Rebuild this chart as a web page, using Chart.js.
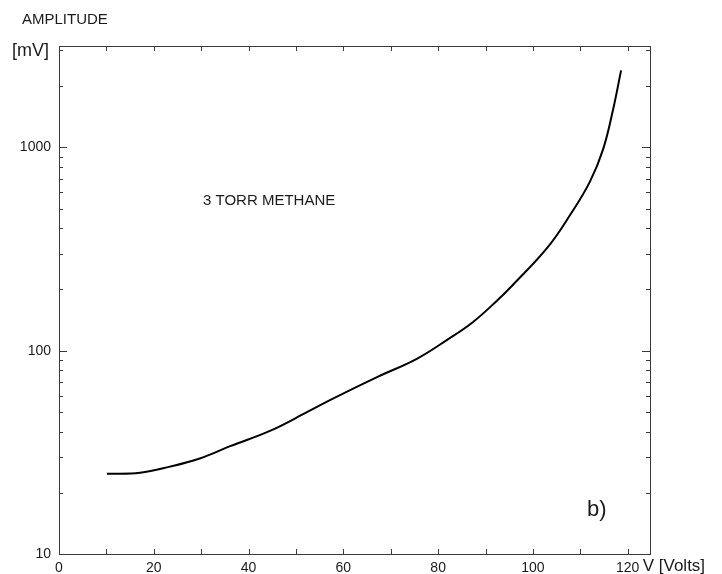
<!DOCTYPE html>
<html>
<head>
<meta charset="utf-8">
<script src="https://cdn.jsdelivr.net/npm/chart.js@4"></script>
<style>
  html, body { margin: 0; padding: 0; background: #fff; }
  #wrap { width: 722px; height: 574px; }
</style>
</head>
<body>
<div id="wrap"><canvas id="c" width="722" height="574"></canvas></div>
<script>
// ---- data ----
const voltage   = [10.1, 17.1, 23.4, 29.7, 36.1, 44.5, 52.5, 57.8, 67.1, 75.5, 81.9, 87.3, 92.4, 95.8, 103, 107.8, 112, 114.8, 116.9, 118.6];
const amplitude = [24.8, 25.1, 26.9, 29.5, 33.9, 40.3, 50.1, 58.1, 74.1, 91.2, 113, 138, 176, 211, 320, 463, 676, 977, 1530, 2390];
const xTickValues = [10, 20, 30, 40, 50, 60, 70, 80, 90, 100, 110, 120];
const xLabelValues = [0, 20, 40, 60, 80, 100, 120];
const yMajorValues = [10, 100, 1000];
const yMinorValues = [20, 30, 40, 50, 60, 70, 80, 90, 200, 300, 400, 500, 600, 700, 800, 900, 2000, 3000];
const xUnitText = 'V [Volts]';
const yTitle = 'AMPLITUDE';
const yUnitText = '[mV]';
const noteText = '3 TORR METHANE';
const panelText = 'b)';

const FONT = '"Liberation Sans", Arial, sans-serif';
const INK = '#1a1a1a';
const AXIS = '#3a3a3a';

const framePlugin = {
  id: 'framePlugin',
  afterDraw(chart) {
    const { ctx, chartArea: a, scales: { x, y } } = chart;
    ctx.save();
    ctx.strokeStyle = AXIS;
    ctx.lineWidth = 1;
    ctx.strokeRect(a.left + 0.5, a.top + 0.5, a.right - a.left, a.bottom - a.top);
    const seg = (x1, y1, x2, y2) => { ctx.beginPath(); ctx.moveTo(x1, y1); ctx.lineTo(x2, y2); ctx.stroke(); };
    xTickValues.forEach(v => {
      const px = Math.round(x.getPixelForValue(v)) + 0.5;
      seg(px, a.bottom, px, a.bottom - 5);
      seg(px, a.top, px, a.top + 5);
    });
    yMajorValues.forEach(v => {
      const py = Math.round(y.getPixelForValue(v)) + 0.5;
      seg(a.left, py, a.left + 8, py);
      seg(a.right, py, a.right - 8, py);
    });
    yMinorValues.forEach(v => {
      const py = Math.round(y.getPixelForValue(v)) + 0.5;
      seg(a.left, py, a.left + 4, py);
      seg(a.right, py, a.right - 4, py);
    });
    // texts
    ctx.fillStyle = INK;
    ctx.textBaseline = 'middle';
    ctx.textAlign = 'left';
    ctx.font = '15px ' + FONT;
    ctx.fillText(yTitle, 22, 20);
    ctx.font = '18px ' + FONT;
    ctx.fillText(yUnitText, 12, 51);
    ctx.font = '15px ' + FONT;
    ctx.fillText(noteText, 203, 201);
    ctx.font = '17px ' + FONT;
    ctx.fillText(xUnitText, x.getPixelForValue(120) + 15, 566);
    ctx.font = '22px ' + FONT;
    ctx.fillText(panelText, 587, 510);
    ctx.restore();
  }
};

new Chart(document.getElementById('c'), {
  type: 'line',
  data: {
    datasets: [{
      data: voltage.map((v, i) => ({ x: v, y: amplitude[i] })),
      borderColor: '#000',
      borderWidth: 2,
      pointRadius: 0,
      fill: false,
      tension: 0.4
    }]
  },
  options: {
    responsive: false,
    animation: false,
    layout: { padding: { top: 46, right: 72, left: 0, bottom: 0 } },
    plugins: { legend: { display: false }, tooltip: { enabled: false } },
    scales: {
      x: {
        type: 'linear',
        min: 0,
        max: 124.7,
        grid: { display: false, drawTicks: false },
        border: { display: false },
        afterBuildTicks(s) { s.ticks = xLabelValues.map(v => ({ value: v })); },
        afterFit(s) { s.height = 20; },
        ticks: {
          autoSkip: false,
          maxRotation: 0,
          padding: 6,
          color: INK,
          font: { family: FONT, size: 14 },
          callback: v => String(v)
        }
      },
      y: {
        type: 'logarithmic',
        min: 10,
        max: 3150,
        grid: { display: false, drawTicks: false },
        border: { display: false },
        afterBuildTicks(s) { s.ticks = yMajorValues.map(v => ({ value: v })); },
        afterFit(s) { s.width = 59; },
        ticks: {
          autoSkip: false,
          padding: 8,
          color: INK,
          font: { family: FONT, size: 14 },
          callback: v => String(v)
        }
      }
    }
  },
  plugins: [framePlugin]
});
</script>
</body>
</html>
